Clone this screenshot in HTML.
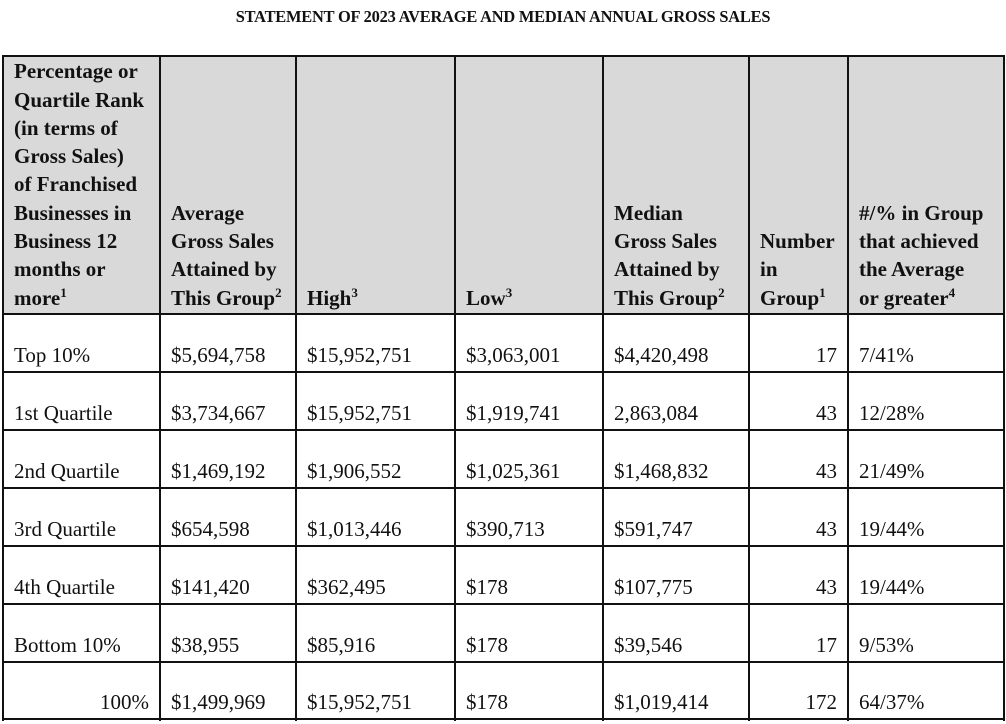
<!DOCTYPE html>
<html><head><meta charset="utf-8"><style>
body{margin:0;background:#fff;width:1006px;height:724px;position:relative;overflow:hidden;font-family:"Liberation Serif",serif;color:#111}
.t{position:absolute;left:0;width:1006px;top:7px;text-align:center;font-weight:bold;font-size:16.4px;letter-spacing:-0.2px}
.hd{position:absolute;top:56px;height:258px;background:#d9d9d9}
.ln{position:absolute;background:#111}
.c{position:absolute;font-size:21px;white-space:nowrap;line-height:22px}
.h{position:absolute;font-size:21px;font-weight:bold;line-height:28.3px;white-space:nowrap}
sup{font-size:13px;vertical-align:8px;line-height:0}
</style></head><body>
<div class="t">STATEMENT OF 2023 AVERAGE AND MEDIAN ANNUAL GROSS SALES</div>
<div class="hd" style="left:3px;width:1001px"></div>
<div id="root"></div>
<script>
const colX=[3,160,296,455,603,749,848,1004];
const rowY=[314,372,430,488,546,604,662,719];
const headers=[
["Percentage or","Quartile Rank","(in terms of","Gross Sales)","of Franchised","Businesses in","Business 12","months or","more<sup>1</sup>"],
["Average","Gross Sales","Attained by","This Group<sup>2</sup>"],
["High<sup>3</sup>"],["Low<sup>3</sup>"],
["Median","Gross Sales","Attained by","This Group<sup>2</sup>"],
["Number","in","Group<sup>1</sup>"],
["#/% in Group","that achieved","the Average","or greater<sup>4</sup>"]];
const ranks=["Top 10%","1st Quartile","2nd Quartile","3rd Quartile","4th Quartile","Bottom 10%","100%"];
const avg=["$5,694,758","$3,734,667","$1,469,192","$654,598","$141,420","$38,955","$1,499,969"];
const high=["$15,952,751","$15,952,751","$1,906,552","$1,013,446","$362,495","$85,916","$15,952,751"];
const low=["$3,063,001","$1,919,741","$1,025,361","$390,713","$178","$178","$178"];
const median=["$4,420,498","2,863,084","$1,468,832","$591,747","$107,775","$39,546","$1,019,414"];
const count=["17","43","43","43","43","17","172"];
const achieved=["7/41%","12/28%","21/49%","19/44%","19/44%","9/53%","64/37%"];
const root=document.getElementById('root');
function line(x,y,w,h,name){const d=document.createElement('div');d.className='ln';


d.style.cssText=`left:${x}px;top:${y}px;width:${w}px;height:${h}px`;root.appendChild(d);}
line(3,55,1002,2,'table-top-border');
rowY.forEach((y,i)=>line(3,y-1,1002,2,'row-border'));
colX.forEach(x=>line(x-1,55,2,666,'column-border'));
headers.forEach((h,i)=>{const d=document.createElement('div');d.className='h';


d.style.left=(colX[i]+11)+'px';d.style.top=(312-h.length*28.3)+'px';d.innerHTML=h.join('<br>');root.appendChild(d);});
const cols=[ranks,avg,high,low,median,count,achieved];
cols.forEach((arr,ci)=>arr.forEach((v,ri)=>{const d=document.createElement('div');d.className='c';


d.textContent=v;d.style.top=(rowY[ri+1]-28)+'px';
const right=(ci===5)||(ci===0&&ri===6);
if(right){d.style.right=(1006-colX[ci+1]+11)+'px';}else{d.style.left=(colX[ci]+11)+'px';}
root.appendChild(d);}));
</script>
</body></html>
